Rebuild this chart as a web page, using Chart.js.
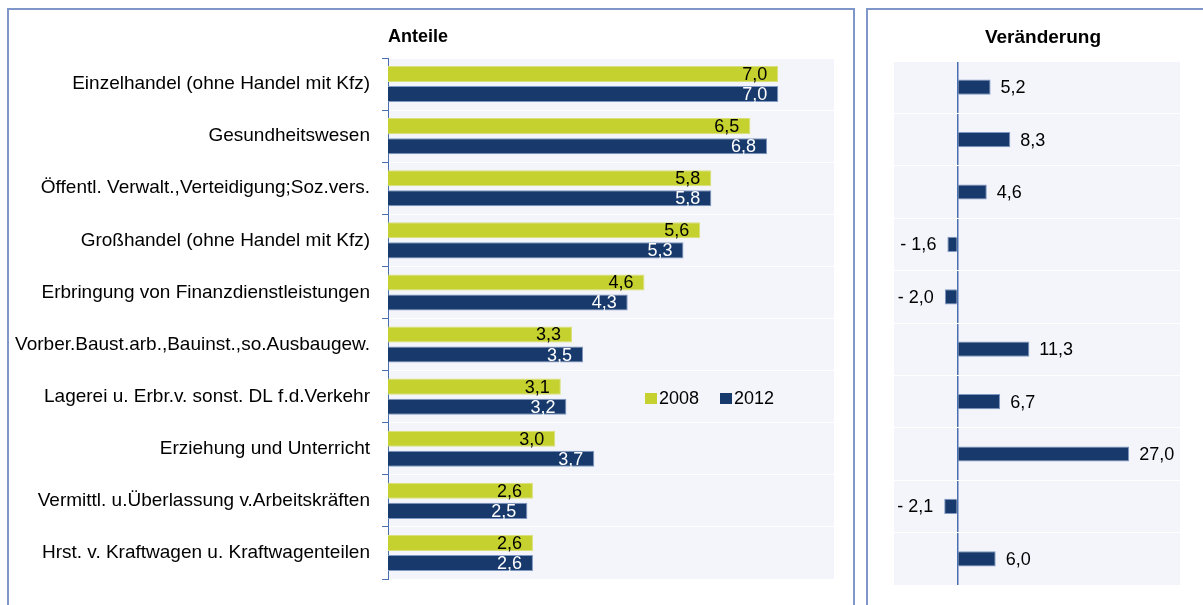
<!DOCTYPE html>
<html lang="de">
<head>
<meta charset="utf-8">
<title>Anteile und Veränderung</title>
<script src="https://cdn.jsdelivr.net/npm/chart.js@4.4.1/dist/chart.umd.min.js"></script>
<style>
  html, body { margin: 0; padding: 0; background: #fff; }
  body { width: 1203px; height: 605px; position: relative; overflow: hidden; font-family: Arial, "Liberation Sans", sans-serif; }
  .panel { position: absolute; border: 2px solid #7f97c8; box-sizing: border-box; }
  #panelLeft { left: 7px; top: 8px; width: 848px; height: 640px; }
  #panelRight { left: 866px; top: 8px; width: 400px; height: 640px; }
  canvas { position: absolute; top: 0; }
  #leftChart { left: 0; }
  #rightChart { left: 855px; }
  .title { position: absolute; font-weight: bold; line-height: 20px; color: #000; }
  #titleLeft { left: 388px; top: 26px; font-size: 18px; }
  #titleRight { left: 943px; width: 200px; top: 27px; text-align: center; font-size: 19px; }
  #legend { position: absolute; left: 645px; top: 388px; display: flex; font-size: 18px; line-height: 20px; color: #000; }
  #legend .item { display: flex; align-items: center; margin-right: 21px; }
  #legend .box { width: 12px; height: 11px; margin-right: 2px; }
</style>
</head>
<body>
<div class="panel" id="panelLeft"></div>
<div class="panel" id="panelRight"></div>
<canvas id="leftChart" width="850" height="605"></canvas>
<canvas id="rightChart" width="348" height="605"></canvas>
<div class="title" id="titleLeft">Anteile</div>
<div class="title" id="titleRight">Veränderung</div>
<div id="legend"></div>
<script>
// Daten
const categories = [
    "Einzelhandel (ohne Handel mit Kfz)",
    "Gesundheitswesen",
    "Öffentl. Verwalt.,Verteidigung;Soz.vers.",
    "Großhandel (ohne Handel mit Kfz)",
    "Erbringung von Finanzdienstleistungen",
    "Vorber.Baust.arb.,Bauinst.,so.Ausbaugew.",
    "Lagerei u. Erbr.v. sonst. DL f.d.Verkehr",
    "Erziehung und Unterricht",
    "Vermittl. u.Überlassung v.Arbeitskräften",
    "Hrst. v. Kraftwagen u. Kraftwagenteilen"
];
const seriesNames = ["2008", "2012"];
const anteile2008 = [7.0, 6.5, 5.8, 5.6, 4.6, 3.3, 3.1, 3.0, 2.6, 2.6];
const anteile2012 = [7.0, 6.8, 5.8, 5.3, 4.3, 3.5, 3.2, 3.7, 2.5, 2.6];
const veraenderung = [5.2, 8.3, 4.6, -1.6, -2.0, 11.3, 6.7, 27.0, -2.1, 6.0];

const GREEN = "#c5d12f";
const NAVY = "#17396b";
const AXIS = "#4a6fae";
const PLOT_BG = "#f4f5fa";

Chart.defaults.font.family = 'Arial, "Liberation Sans", sans-serif';
Chart.defaults.font.size = 18;
Chart.defaults.color = "#000";

function fmt(v) {
    return (v < 0 ? "- " : "") + Math.abs(v).toFixed(1).replace(".", ",");
}

const plotBackground = {
    id: "plotBackground",
    beforeDraw(chart) {
        const a = chart.chartArea;
        const ctx = chart.ctx;
        ctx.save();
        ctx.fillStyle = PLOT_BG;
        ctx.fillRect(a.left, a.top, a.right - a.left, a.bottom - a.top);
        ctx.restore();
    }
};

const valueLabels = {
    id: "valueLabels",
    afterDatasetsDraw(chart, args, opts) {
        const ctx = chart.ctx;
        ctx.save();
        ctx.font = '18px Arial, "Liberation Sans", sans-serif';
        ctx.textBaseline = "middle";
        chart.data.datasets.forEach((ds, i) => {
            const meta = chart.getDatasetMeta(i);
            meta.data.forEach((bar, j) => {
                const v = ds.data[j];
                const txt = fmt(v);
                if (opts.mode === "inside") {
                    ctx.textAlign = "right";
                    ctx.fillStyle = opts.colors[i];
                    ctx.fillText(txt, bar.x - 11, bar.y + 1);
                } else {
                    ctx.fillStyle = "#000";
                    if (v >= 0) {
                        ctx.textAlign = "left";
                        ctx.fillText(txt, bar.x + 10, bar.y + 1);
                    } else {
                        ctx.textAlign = "right";
                        ctx.fillText(txt, bar.x - 11, bar.y + 1);
                    }
                }
            });
        });
        ctx.restore();
    }
};

// linkes Diagramm: Anteile
new Chart(document.getElementById("leftChart"), {
    type: "bar",
    data: {
        labels: categories,
        datasets: [
            { label: seriesNames[0], data: anteile2008, backgroundColor: GREEN, borderColor: "#d9e07a", borderWidth: 1, borderSkipped: "left" },
            { label: seriesNames[1], data: anteile2012, backgroundColor: NAVY, borderColor: "#7f98c4", borderWidth: 1, borderSkipped: "left" }
        ]
    },
    options: {
        indexAxis: "y",
        responsive: false,
        animation: false,
        categoryPercentage: 0.77,
        barPercentage: 0.8,
        layout: { padding: { left: 0, top: 58, right: 16, bottom: 26 } },
        plugins: {
            legend: { display: false },
            tooltip: { enabled: false },
            valueLabels: { mode: "inside", colors: ["#000", "#fff"] }
        },
        scales: {
            x: { display: false, min: 0, max: 8 },
            y: {
                afterFit(scale) { scale.width = 388; },
                ticks: { autoSkip: false, padding: 12, color: "#000", font: { size: 19 } },
                grid: { offset: true, color: "#ffffff", lineWidth: 1, tickColor: AXIS, tickLength: 6 },
                border: { color: AXIS, width: 1 }
            }
        }
    },
    plugins: [plotBackground, valueLabels]
});

// rechtes Diagramm: Veränderung
new Chart(document.getElementById("rightChart"), {
    type: "bar",
    data: {
        labels: categories,
        datasets: [
            { label: "Veränderung", data: veraenderung, backgroundColor: NAVY, borderColor: "#7f98c4", borderWidth: 1, borderSkipped: "start" }
        ]
    },
    options: {
        indexAxis: "y",
        responsive: false,
        animation: false,
        categoryPercentage: 0.29,
        barPercentage: 1,
        layout: { padding: { left: 39, top: 61, right: 23, bottom: 20 } },
        plugins: {
            legend: { display: false },
            tooltip: { enabled: false },
            valueLabels: { mode: "outside" }
        },
        scales: {
            x: {
                min: -10, max: 35,
                afterFit(scale) { scale.height = 0; },
                ticks: { display: false, stepSize: 5 },
                grid: {
                    drawTicks: false,
                    color: ctx => ctx.tick && ctx.tick.value === 0 ? AXIS : "rgba(0,0,0,0)",
                    lineWidth: 1.5
                },
                border: { display: false }
            },
            y: {
                afterFit(scale) { scale.width = 0; },
                ticks: { display: false },
                grid: { offset: true, color: "#ffffff", lineWidth: 1, drawTicks: false },
                border: { display: false }
            }
        }
    },
    plugins: [plotBackground, valueLabels]
});

// Legende
const legendColors = [GREEN, NAVY];
const legendEl = document.getElementById("legend");
seriesNames.forEach((name, i) => {
    const item = document.createElement("div");
    item.className = "item";
    const box = document.createElement("span");
    box.className = "box";
    box.style.background = legendColors[i];
    const txt = document.createElement("span");
    txt.textContent = name;
    item.appendChild(box);
    item.appendChild(txt);
    legendEl.appendChild(item);
});
</script>
</body>
</html>
